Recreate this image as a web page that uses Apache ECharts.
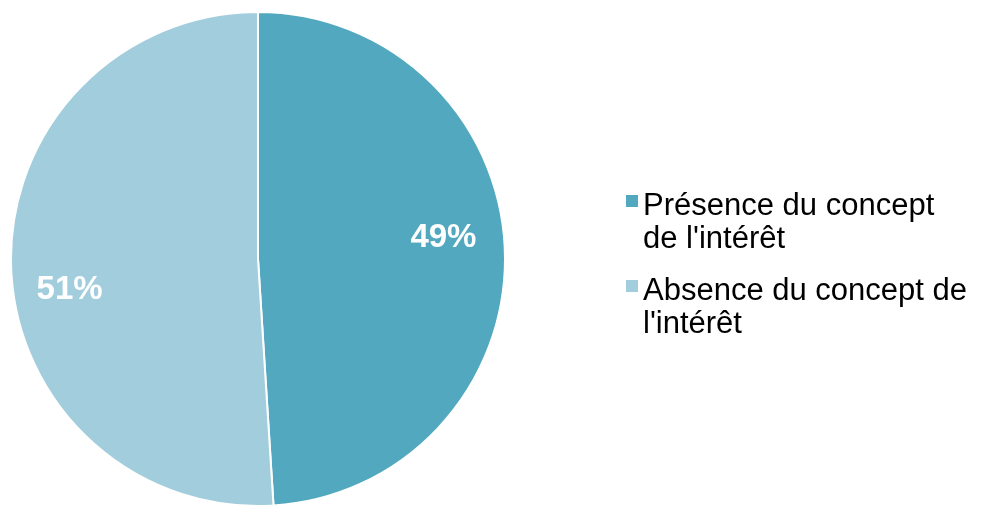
<!DOCTYPE html>
<html><head><meta charset="utf-8">
<script src="https://cdn.jsdelivr.net/npm/echarts@6/dist/echarts.min.js"></script>
<style>html,body{margin:0;padding:0;background:#fff}#c{width:984px;height:506px}</style>
</head><body><div id="c"></div>
<script>
const categories = ["Présence du concept de l'intérêt", "Absence du concept de l'intérêt"];
const legendLines = [["Présence du concept", "de l'intérêt"], ["Absence du concept de", "l'intérêt"]];
const values = [49, 51];
const colors = ['#52A8BF', '#A2CDDC'];
const labelOffsets = [[59, -17], [-62, 27]];

const chart = echarts.init(document.getElementById('c'));
chart.setOption({
  animation: false,
  legend: {
    orient: 'vertical',
    left: 621,
    top: 162,
    itemWidth: 12,
    itemHeight: 12,
    itemGap: -3,
    icon: 'rect',
    itemStyle: { borderWidth: 0 },
    data: categories,
    formatter: n => '{s| }\n' + legendLines[categories.indexOf(n)].map(t => '{a|' + t + '}').join('\n'),
    textStyle: {
      fontFamily: 'Liberation Sans, Arial, sans-serif',
      fontSize: 31,
      color: '#000',
      rich: {
        s: { fontSize: 2, lineHeight: 44 },
        a: { fontSize: 31, lineHeight: 33, color: '#000', fontFamily: 'Liberation Sans, Arial, sans-serif' }
      }
    }
  },
  series: [{
    type: 'pie',
    center: [258, 259],
    radius: [0, 247],
    startAngle: 90,
    clockwise: true,
    silent: true,
    itemStyle: { borderColor: '#fff', borderWidth: 2 },
    label: {
      show: true,
      position: 'inside',
      formatter: p => p.value + '%',
      color: '#fff',
      fontSize: 33,
      fontWeight: 'bold',
      fontFamily: 'Liberation Sans, Arial, sans-serif'
    },
    labelLine: { show: false },
    data: categories.map((n, i) => ({
      name: n, value: values[i],
      itemStyle: { color: colors[i] },
      label: { offset: labelOffsets[i] }
    }))
  }]
});
</script></body></html>
